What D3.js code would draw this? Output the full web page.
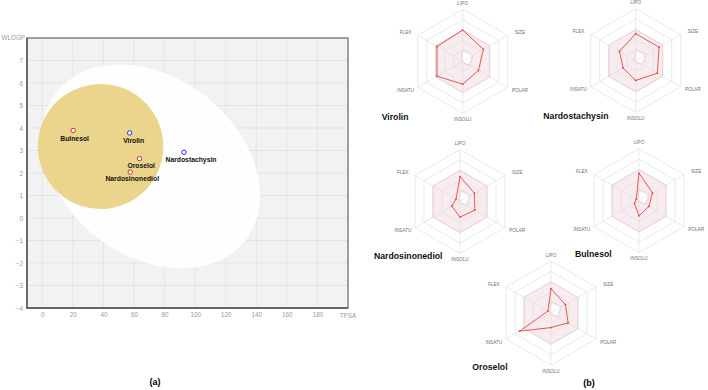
<!DOCTYPE html>
<html>
<head>
<meta charset="utf-8">
<script src="https://cdn.jsdelivr.net/npm/d3@7"></script>
<style>
  body { margin: 0; background: #fff; }
  svg { display: block; font-family: "Liberation Sans", Arial, sans-serif; }
</style>
</head>
<body>
<div id="chart"></div>
<script>
// scatter (BOILED-Egg) data
var compounds = ["Bulnesol", "Virolin", "Nardostachysin", "Oroselol", "Nardosinonediol"];
var tpsa      = [20.23, 57.15, 92.70, 63.58, 57.53];
var wlogp     = [3.89, 3.78, 2.92, 2.64, 2.04];
var pgp       = ["-", "+", "+", "-", "-"];
var xTicks = [0, 20, 40, 60, 80, 100, 120, 140, 160, 180];
var yTicks = [-4, -3, -2, -1, 0, 1, 2, 3, 4, 5, 6, 7];

// bioavailability radar data (fraction of the radius)
var radarAxes  = ["LIPO", "SIZE", "POLAR", "INSOLU", "INSATU", "FLEX"];
var radarNames = ["Virolin", "Nardostachysin", "Nardosinonediol", "Bulnesol", "Oroselol"];
var virolinV         = [0.60, 0.46, 0.35, 0.44, 0.57, 0.57];
var nardostachysinV  = [0.52, 0.52, 0.48, 0.38, 0.28, 0.36];
var nardosinonediolV = [0.48, 0.32, 0.33, 0.30, 0.18, 0.09];
var bulnesolV        = [0.53, 0.30, 0.22, 0.29, 0.10, 0.06];
var oroselolV        = [0.47, 0.32, 0.38, 0.28, 0.70, 0.07];
var pinkOuter = [0.6, 0.6, 0.6, 0.6, 0.6, 0.6];
var pinkInner = [0.22, 0.24, 0.14, 0.03, 0.02, 0.02];
var radarLevels = [0.2, 0.4, 0.6, 0.8, 1.0];

var W = 708, H = 390;
var svg = d3.select("#chart").append("svg").attr("width", W).attr("height", H);
svg.append("rect").attr("width", W).attr("height", H).attr("fill", "#fff");

// ---------- left panel ----------
var plot = {left: 27, right: 348, top: 38, bottom: 308};
var x = d3.scaleLinear().domain([-10, 200]).range([plot.left, plot.right]);
var y = d3.scaleLinear().domain([-4, 8]).range([plot.bottom, plot.top]);

var g = svg.append("g");
g.append("rect")
  .attr("x", plot.left).attr("y", plot.top)
  .attr("width", plot.right - plot.left).attr("height", plot.bottom - plot.top)
  .attr("fill", "#f2f2f2");

// grid
g.selectAll(".vg").data(xTicks).enter().append("line")
  .attr("x1", function(d){ return x(d); }).attr("x2", function(d){ return x(d); })
  .attr("y1", plot.top).attr("y2", plot.bottom)
  .attr("stroke", "rgba(0,0,0,0.07)").attr("stroke-width", 0.8);
g.selectAll(".hg").data(yTicks).enter().append("line")
  .attr("y1", function(d){ return y(d); }).attr("y2", function(d){ return y(d); })
  .attr("x1", plot.left).attr("x2", plot.right)
  .attr("stroke", "rgba(0,0,0,0.07)").attr("stroke-width", 0.8);

// egg white (HIA)
g.append("ellipse")
  .attr("cx", 0).attr("cy", 0).attr("rx", 120).attr("ry", 89)
  .attr("transform", "translate(" + x(71.051) + "," + y(2.292) + ") rotate(38.3)")
  .attr("fill", "#fff").attr("fill-opacity", 0.93);

// yolk (BBB)
g.append("ellipse")
  .attr("cx", 0).attr("cy", 0)
  .attr("rx", x(38.117 + 41.03) - x(38.117))
  .attr("ry", y(3.177) - y(3.177 + 2.7785))
  .attr("transform", "translate(" + x(38.117) + "," + y(3.177) + ") rotate(-3.8)")
  .attr("fill", "#ebd58c");

// frame
g.append("rect")
  .attr("x", plot.left).attr("y", plot.top)
  .attr("width", plot.right - plot.left).attr("height", plot.bottom - plot.top)
  .attr("fill", "none").attr("stroke", "#7a7a7a").attr("stroke-width", 1.4);
g.append("path")
  .attr("d", "M" + plot.left + "," + plot.top + "V" + plot.bottom + "H" + plot.right)
  .attr("fill", "none").attr("stroke", "#666").attr("stroke-width", 1.8);

// axes labels
var xAxis = d3.axisBottom(x).tickValues(xTicks).tickSize(0).tickPadding(5);
var xa = g.append("g").attr("transform", "translate(0," + plot.bottom + ")").call(xAxis);
var yAxis = d3.axisLeft(y).tickValues(yTicks).tickSize(0).tickPadding(4);
var ya = g.append("g").attr("transform", "translate(" + plot.left + ",0)").call(yAxis);
[xa, ya].forEach(function(a){
  a.select(".domain").remove();
  a.selectAll("text").attr("fill", "#9a9a9a").style("font-size", "6.3px")
    .style("font-family", "Liberation Sans, Arial, sans-serif");
});
g.append("text").attr("x", x(200)).attr("y", plot.bottom + 8).attr("dy", "0.32em")
  .attr("text-anchor", "middle").attr("fill", "#9a9a9a").style("font-size", "6.3px").text("TPSA");
g.append("text").attr("x", plot.left - 2).attr("y", y(8)).attr("dy", "0.32em")
  .attr("text-anchor", "end").attr("fill", "#9a9a9a").style("font-size", "6.3px").text("WLOGP");

// points
var labelNudge = {
  "Bulnesol": [1.4, 8.3], "Virolin": [4, 8], "Nardostachysin": [7, 7],
  "Oroselol": [1.7, 7], "Nardosinonediol": [2, 6.7]
};
compounds.forEach(function(name, i){
  g.append("circle")
    .attr("cx", x(tpsa[i])).attr("cy", y(wlogp[i])).attr("r", 2.2)
    .attr("fill", "#fff")
    .attr("stroke", pgp[i] === "+" ? "#2b2bff" : "#c8322a").attr("stroke-width", 1);
  g.append("text")
    .attr("x", x(tpsa[i]) + labelNudge[name][0])
    .attr("y", y(wlogp[i]) + labelNudge[name][1])
    .attr("dy", "0.35em").attr("text-anchor", "middle")
    .style("font-size", "6.8px").style("font-weight", "bold").attr("fill", "#111")
    .text(name);
});

svg.append("text").attr("x", 155).attr("y", 382).attr("dy", "0.35em")
  .attr("text-anchor", "middle").style("font-size", "9px").style("font-weight", "bold")
  .text("(a)");

// ---------- right panel: radars ----------
var R = 52;
var rScale = d3.scaleLinear().domain([0, 1]).range([0, R]);
var angle = d3.scaleLinear().domain([0, radarAxes.length]).range([0, 2 * Math.PI]);
var radarValues = [virolinV, nardostachysinV, nardosinonediolV, bulnesolV, oroselolV];
var radarCenters = [[462.7, 61.3], [635.7, 60.7], [460, 201.5], [639, 200.7], [551, 313]];
var namePos = [[381.7, 120], [543.3, 119], [374, 259], [575, 257], [472.3, 370]];

var radial = d3.lineRadial()
  .angle(function(d, i){ return angle(i); })
  .radius(function(d){ return rScale(d); })
  .curve(d3.curveLinearClosed);

radarNames.forEach(function(name, k){
  var c = radarCenters[k];
  var rg = svg.append("g").attr("transform", "translate(" + c[0] + "," + c[1] + ")");

  // pink optimal zone (outer minus inner)
  rg.append("path")
    .attr("d", radial(pinkOuter) + radial(pinkInner))
    .attr("fill", "rgba(214,120,150,0.14)").attr("fill-rule", "evenodd")
    .attr("stroke", "rgba(214,110,140,0.45)").attr("stroke-width", 0.7);

  // grid
  radarLevels.forEach(function(l){
    rg.append("path").attr("d", radial(radarAxes.map(function(){ return l; })))
      .attr("fill", "none").attr("stroke", "#dcdcdc").attr("stroke-width", 0.6);
  });
  radarAxes.forEach(function(a, i){
    var ang = angle(i);
    rg.append("line").attr("x1", 0).attr("y1", 0)
      .attr("x2", Math.sin(ang) * rScale(1)).attr("y2", -Math.cos(ang) * rScale(1))
      .attr("stroke", "#dcdcdc").attr("stroke-width", 0.6);
    rg.append("text")
      .attr("x", Math.sin(ang) * (R + 14)).attr("y", -Math.cos(ang) * (R + 6))
      .attr("dy", "0.35em").attr("text-anchor", "middle")
      .style("font-size", "4.7px").attr("fill", "#707070").text(a);
  });

  // compound polygon
  var vals = radarValues[k];
  rg.append("path").attr("d", radial(vals))
    .attr("fill", "none").attr("stroke", "#de4a3c").attr("stroke-width", 0.9);
  rg.selectAll(".pt").data(vals).enter().append("circle")
    .attr("cx", function(d, i){ return Math.sin(angle(i)) * rScale(d); })
    .attr("cy", function(d, i){ return -Math.cos(angle(i)) * rScale(d); })
    .attr("r", 0.9).attr("fill", "#de4a3c");

  svg.append("text").attr("x", namePos[k][0]).attr("y", namePos[k][1])
    .style("font-size", "8.7px").style("font-weight", "bold").attr("fill", "#111")
    .text(name);
});

svg.append("text").attr("x", 589).attr("y", 383).attr("dy", "0.35em")
  .attr("text-anchor", "middle").style("font-size", "9px").style("font-weight", "bold")
  .text("(b)");
</script>
</body>
</html>
